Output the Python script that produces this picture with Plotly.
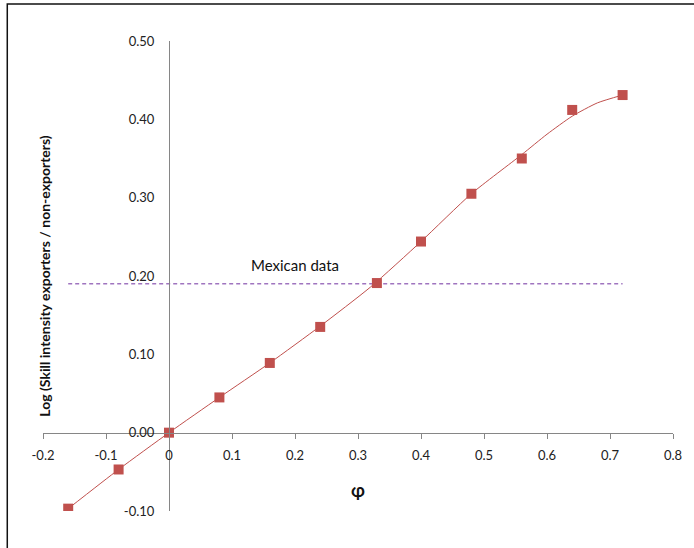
import plotly.graph_objects as go

# Data: simulated points (markers)
phi = [-0.16, -0.08, 0.0, 0.08, 0.16, 0.24, 0.33, 0.40, 0.48, 0.56, 0.64, 0.72]
log_skill = [-0.097, -0.047, 0.0, 0.045, 0.089, 0.135, 0.191, 0.244, 0.305, 0.350, 0.412, 0.431]
# Smooth fitted curve
curve_x = [-0.16, -0.08, 0.0, 0.08, 0.16, 0.24, 0.32, 0.40, 0.48, 0.56, 0.60, 0.64, 0.68, 0.72]
curve_y = [-0.097, -0.047, 0.0, 0.045, 0.089, 0.136, 0.186, 0.244, 0.305, 0.355, 0.381, 0.404, 0.421, 0.431]
# Mexican data reference line
mex_x = [-0.16, 0.72]
mex_y = [0.19, 0.19]
x_ticks = [-0.2, -0.1, 0, 0.1, 0.2, 0.3, 0.4, 0.5, 0.6, 0.7, 0.8]
x_tick_labels = ["-0.2", "-0.1", "0", "0.1", "0.2", "0.3", "0.4", "0.5", "0.6", "0.7", "0.8"]
y_ticks = [-0.1, 0, 0.1, 0.2, 0.3, 0.4, 0.5]
y_tick_labels = ["-0.10", "0.00", "0.10", "0.20", "0.30", "0.40", "0.50"]

FONT = "Lato, Open Sans, sans-serif"
fig = go.Figure()

fig.add_trace(go.Scatter(
    x=mex_x, y=mex_y, mode="lines",
    line=dict(color="#7030A0", width=1, dash="4px,3px"),
    hoverinfo="skip", showlegend=False,
))
fig.add_trace(go.Scatter(
    x=curve_x, y=curve_y, mode="lines",
    line=dict(color="#C0504D", width=1, shape="spline", smoothing=0.6),
    hoverinfo="skip", showlegend=False,
))
fig.add_trace(go.Scatter(
    x=phi, y=log_skill, mode="markers",
    marker=dict(symbol="square", size=10, color="#C0504D"),
    showlegend=False,
))

fig.add_annotation(x=0.2, y=0.214, text="Mexican data", showarrow=False,
                   font=dict(family=FONT, size=15, color="#111111"))

# Outer chart border (extends beyond the right/bottom edges)
fig.add_shape(type="rect", xref="paper", yref="paper",
              x0=-0.0567, y0=-0.3, x1=1.3, y1=1.0787,
              line=dict(color="#111111", width=1.5), layer="below")

fig.update_layout(
    width=694, height=548,
    margin=dict(l=43, r=16, t=41, b=37),
    plot_bgcolor="white", paper_bgcolor="white",
    font=dict(family=FONT, size=13, color="#222222"),
    xaxis=dict(
        range=[-0.2, 0.8], tickvals=x_ticks, ticktext=x_tick_labels,
        showgrid=False, zeroline=False, showline=True, linecolor="#868686", linewidth=1,
        ticks="outside", ticklen=5, tickcolor="#868686", ticklabelstandoff=6,
        anchor="free", position=1/6,
        title=dict(text="<b>φ</b>", font=dict(family=FONT, size=18, color="#111111"), standoff=22),
    ),
    yaxis=dict(
        range=[-0.1, 0.5], tickvals=y_ticks, ticktext=y_tick_labels,
        showgrid=False, zeroline=False, showline=True, linecolor="#868686", linewidth=1,
        ticks="", ticklabelstandoff=12,
        anchor="free", position=0.2,
        title=dict(text="<b>Log (Skill intensity exporters / non-exporters)</b>",
                   font=dict(family=FONT, size=14, color="#111111"), standoff=68),
    ),
)

fig.write_html("out.html")
